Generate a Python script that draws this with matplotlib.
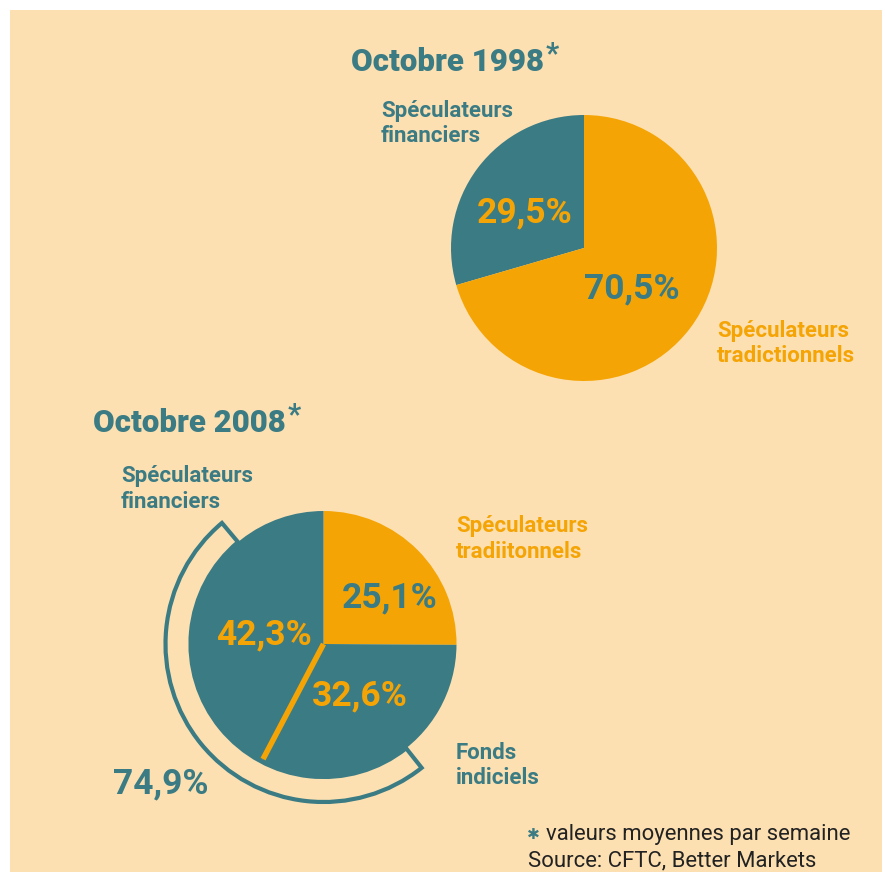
import matplotlib
matplotlib.use("Agg")
import matplotlib.pyplot as plt
from matplotlib.patches import Rectangle, Wedge
import numpy as np

# ---------------- data ----------------
titles = ["Octobre 1998", "Octobre 2008"]
labels_1998 = ["Spéculateurs\nfinanciers", "Spéculateurs\ntradictionnels"]
values_1998 = [29.5, 70.5]
labels_2008 = ["Spéculateurs\ntradiitonnels", "Fonds\nindiciels", "Spéculateurs\nfinanciers"]
values_2008 = [25.1, 32.6, 42.3]
total_financial_2008 = 74.9
footnote = "valeurs moyennes par semaine"
source = "Source: CFTC, Better Markets"

# ---------------- style ----------------
BG = "#FCE0B1"
TEAL = "#3B7B84"
ORANGE = "#F5A405"
W, H = 885, 872
FONT = "Roboto"

fig = plt.figure(figsize=(W / 100, H / 100), dpi=100)
fig.patch.set_facecolor("white")
ax = fig.add_axes([0, 0, 1, 1])
ax.set_xlim(0, W)
ax.set_ylim(0, H)
ax.axis("off")

def Y(y):
    return H - y

def fmt(v):
    return f"{v:.1f}".replace(".", ",") + "%"

ax.add_patch(Rectangle((10, Y(872)), 872, 862, facecolor=BG, edgecolor="none", zorder=0))

# ---------------- pie 1998 ----------------
c1 = (584, Y(248))
r = 133
ax.pie(values_1998, colors=[TEAL, ORANGE], startangle=90, counterclock=True,
       center=c1, radius=r, frame=True, wedgeprops=dict(linewidth=0))

# ---------------- pie 2008 ----------------
c2 = (323.5, Y(644))
# bracket around financial speculators
ax.add_patch(Wedge(c2, 158, 130, 308.4, width=25, facecolor=BG, edgecolor=TEAL,
                   linewidth=3, zorder=1))
wedges, _ = ax.pie(values_2008, colors=[ORANGE, TEAL, TEAL], startangle=90, counterclock=False,
                   center=c2, radius=r, frame=True, wedgeprops=dict(linewidth=0))
for w in wedges:
    w.set_zorder(2)
# orange separator between the two teal slices
ang = np.deg2rad(90 - 360 * (values_2008[0] + values_2008[1]) / sum(values_2008))
ax.plot([c2[0], c2[0] + (r - 3) * np.cos(ang)], [c2[1], c2[1] + (r - 3) * np.sin(ang)],
        color=ORANGE, lw=4, solid_capstyle="butt", zorder=3)

ax.set_xlim(0, W)
ax.set_ylim(0, H)
ax.set_aspect("equal")
ax.axis("off")

# ---------------- text ----------------
def txt(x, y, s, color, size, weight="bold", family=FONT, **kw):
    return ax.text(x, Y(y), s, color=color, fontsize=size, fontweight=weight, family=family,
                   ha=kw.pop("ha", "left"), va=kw.pop("va", "baseline"), zorder=5, **kw)

def two_lines(x, y1, y2, s, color, size=16):
    a, b = s.split("\n")
    txt(x, y1, a, color, size)
    txt(x, y2, b, color, size)

def title(x, y, s):
    t = txt(x, y, s, TEAL, 22.5, weight="heavy")
    ax.annotate("*", xy=(1, 1), xycoords=t, xytext=(1, 5), textcoords="offset points",
                color=TEAL, fontsize=21, fontweight="bold", family=FONT,
                ha="left", va="top", zorder=5)

title(351, 71, titles[0])
title(93, 432, titles[1])

# 1998 labels
two_lines(381, 117, 142, labels_1998[0], TEAL)
two_lines(717, 337, 362, labels_1998[1], ORANGE)
txt(477, 222, fmt(values_1998[0]), ORANGE, 25.5)
txt(584, 298, fmt(values_1998[1]), TEAL, 25.5)

# 2008 labels
two_lines(121, 482, 508, labels_2008[2], TEAL)
two_lines(456, 532, 558, labels_2008[0], ORANGE)
two_lines(456, 759, 784, labels_2008[1], TEAL)
txt(342, 607, fmt(values_2008[0]), TEAL, 25.5)
txt(312, 705, fmt(values_2008[1]), ORANGE, 25.5)
txt(216, 644, fmt(values_2008[2]), ORANGE, 25.5)
txt(113, 793, fmt(total_financial_2008), TEAL, 25.5)

# footer
txt(527, 839, "\u2731", TEAL, 11, family="DejaVu Sans", weight="normal")
txt(546, 840, footnote, "#222222", 15.9, weight="normal")
txt(528, 866, source, "#222222", 15.9, weight="normal")

fig.savefig("out.png", dpi=100, facecolor="white")
